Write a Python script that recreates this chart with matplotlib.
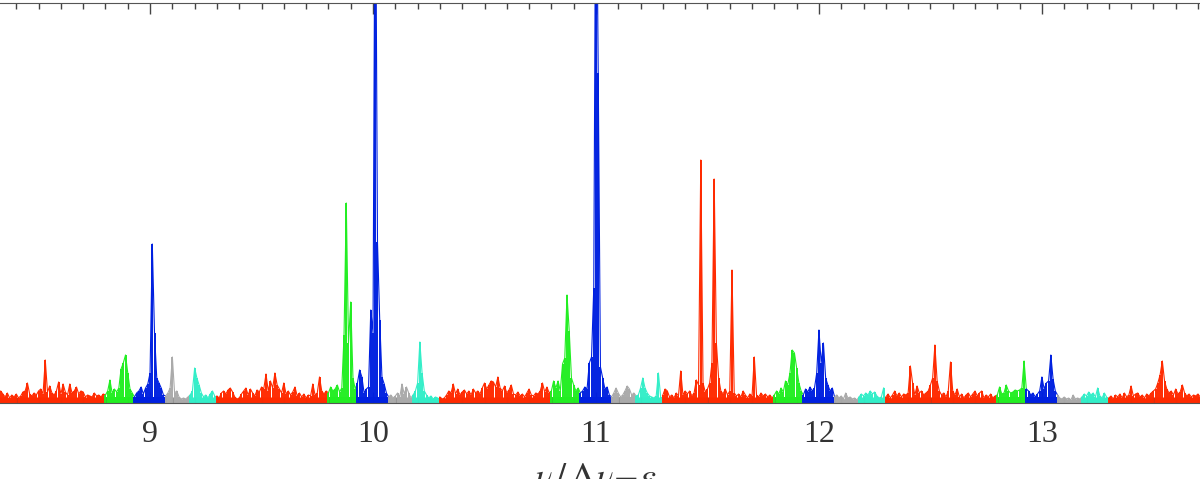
import numpy as np
import matplotlib.pyplot as plt
from matplotlib.ticker import MultipleLocator

# power spectrum, one array per radial order, sampled every 0.01 in nu/dnu - eps
order_start = [8.30, 9.30, 10.30, 11.30, 12.30, 13.30]
step = 0.01

power_8 = [8, 6, 10, 12, 9, 6, 10, 5, 8, 6,
           9, 5, 7, 11, 12, 20, 9, 7, 10, 8,
           12, 14, 9, 43, 11, 17, 10, 8, 12, 21,
           9, 19, 11, 8, 19, 10, 12, 16, 9, 12,
           11, 6, 8, 7, 6, 10, 7, 8, 6, 9,
           8, 12, 23, 10, 14, 11, 15, 34, 40, 48,
           30, 14, 10, 6, 10, 12, 16, 9, 15, 19,
           30, 159, 70, 25, 20, 15, 8, 7, 10, 15,
           46, 10, 12, 6, 4, 5, 4, 6, 8, 12,
           35, 25, 18, 10, 6, 8, 5, 9, 12, 7]
power_9 = [7, 5, 10, 12, 9, 13, 15, 11, 6, 4,
           5, 9, 12, 15, 8, 14, 10, 7, 13, 11,
           16, 14, 29, 12, 22, 15, 30, 18, 14, 10,
           20, 9, 12, 8, 11, 16, 7, 10, 6, 9,
           5, 8, 7, 19, 8, 10, 26, 12, 9, 12,
           10, 16, 12, 14, 18, 11, 15, 68, 200, 60,
           101, 25, 14, 20, 33, 26, 10, 14, 16, 93,
           70, 600, 161, 83, 26, 19, 10, 6, 8, 5,
           7, 10, 6, 19, 9, 16, 10, 5, 8, 12,
           20, 61, 30, 12, 8, 5, 7, 4, 6, 5]
power_10 = [6, 4, 5, 8, 12, 10, 19, 9, 14, 8,
            11, 13, 9, 12, 8, 14, 10, 12, 9, 15,
            20, 14, 18, 22, 21, 16, 26, 15, 12, 17,
            10, 13, 18, 9, 8, 11, 7, 9, 6, 10,
            14, 8, 7, 10, 9, 12, 20, 11, 16, 10,
            12, 22, 15, 22, 12, 39, 45, 108, 72, 25,
            18, 12, 15, 10, 12, 16, 14, 40, 46, 115,
            600, 330, 36, 25, 14, 16, 8, 6, 10, 15,
            10, 6, 8, 12, 17, 14, 8, 10, 7, 8,
            15, 25, 15, 10, 7, 6, 5, 7, 30, 6]
power_11 = [8, 14, 12, 6, 8, 5, 10, 7, 32, 8,
            12, 9, 12, 7, 10, 23, 18, 243, 20, 11,
            14, 20, 40, 224, 60, 25, 12, 9, 14, 8,
            12, 133, 10, 7, 9, 6, 12, 8, 5, 9,
            7, 46, 8, 6, 10, 7, 9, 6, 8, 5,
            8, 12, 9, 15, 11, 22, 18, 30, 53, 50,
            35, 20, 12, 8, 14, 11, 16, 12, 15, 30,
            73, 40, 60, 25, 18, 12, 15, 6, 8, 5,
            7, 4, 10, 5, 6, 4, 5, 3, 6, 9,
            7, 10, 8, 12, 9, 11, 7, 5, 6, 15]
power_12 = [6, 9, 5, 8, 12, 7, 10, 6, 9, 8,
            10, 37, 20, 8, 17, 10, 12, 8, 10, 12,
            18, 25, 58, 22, 12, 8, 10, 6, 12, 41,
            12, 8, 14, 6, 9, 5, 8, 10, 6, 9,
            12, 7, 10, 12, 5, 8, 6, 9, 5, 7,
            8, 16, 9, 10, 18, 12, 10, 11, 13, 12,
            13, 15, 42, 14, 12, 8, 10, 6, 9, 12,
            26, 14, 20, 22, 48, 24, 12, 8, 5, 4,
            6, 4, 5, 3, 8, 4, 5, 4, 6, 9,
            7, 11, 8, 10, 6, 15, 7, 5, 10, 6]
power_13 = [5, 7, 4, 8, 6, 9, 5, 10, 6, 8,
            17, 7, 9, 10, 6, 8, 5, 9, 7, 10,
            12, 14, 20, 28, 42, 22, 14, 10, 12, 8,
            14, 9, 11, 18, 10, 7, 9, 6, 8, 7,
            9, 6]

spectra = [power_8, power_9, power_10, power_11, power_12, power_13]

# l=0 region, l=1..3 bands -> red, green, blue, grey, cyan
seg_edges = [0, 50, 63, 77, 88, 100]
colours = ['#ff2a00', '#22ee22', '#0020e0', '#aaaaaa', '#33eec8']

fig = plt.figure(figsize=(12, 4.79), dpi=100)
ax = fig.add_axes([0, 76 / 479, 1, 400 / 479])

for start, p in zip(order_start, spectra):
    p = np.array(p, dtype=float)
    x = start + step * np.arange(len(p))
    for k in range(5):
        a = seg_edges[k]
        b = min(seg_edges[k + 1] + 1, len(p))
        if a >= len(p):
            break
        ax.vlines(x[a:b], 0, p[a:b], color=colours[k], lw=1.4)
        ax.plot(x[a:b], p[a:b], color=colours[k], lw=0.8)
        ax.fill_between(x[a:b], 0, np.minimum(p[a:b], 6), color=colours[k], lw=0)

ax.set_xlim(8.327, 13.709)
ax.set_ylim(0, 400)
ax.set_yticks([])
ax.set_xticks([9, 10, 11, 12, 13])
ax.xaxis.set_minor_locator(MultipleLocator(0.1))
ax.tick_params(axis='x', which='both', direction='in', top=True, bottom=True,
               colors='#444444', width=1)
ax.tick_params(axis='x', which='major', length=8, pad=12, labelsize=23,
               labelcolor='#333333')
ax.tick_params(axis='x', which='minor', length=4)
for lab in ax.get_xticklabels():
    lab.set_family('Liberation Serif')

for side in ['left', 'right']:
    ax.spines[side].set_visible(False)
for side in ['top', 'bottom']:
    ax.spines[side].set_color('#555555')

plt.rcParams['mathtext.fontset'] = 'stix'
fig.text(0.496, (479 - 460) / 479, r'$\nu\,/\,\Delta\nu\!-\!\epsilon$',
         ha='center', va='top', fontsize=26, color='#333333')

fig.savefig('out.png', dpi=100)
